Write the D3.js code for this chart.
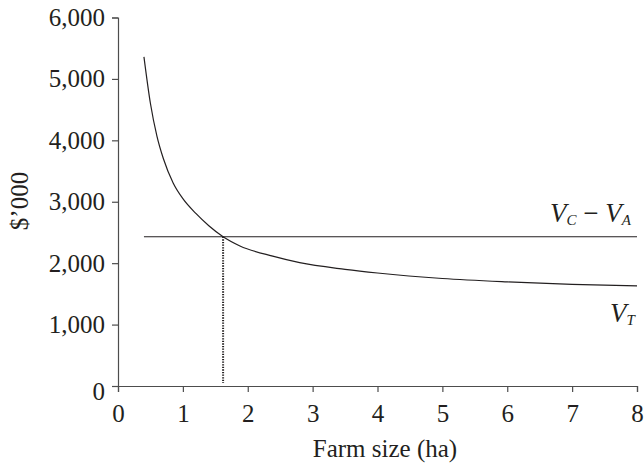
<!DOCTYPE html>
<html>
<head>
<meta charset="utf-8">
<script src="https://cdn.jsdelivr.net/npm/d3@7"></script>
<style>
  body { margin: 0; background: #fff; }
  text { font-family: "Liberation Serif", "Times New Roman", serif; fill: #231f20; }
</style>
</head>
<body>
<script>
// values
const farmSize = [0.4, 0.5, 0.6, 0.7, 0.85, 1.0, 1.2, 1.4, 1.62, 1.88, 2.4, 2.8, 3.5, 4.0, 5.0, 6.0, 7.0, 8.0]
const valueT   = [5360, 4600, 4070, 3700, 3306, 3050, 2810, 2610, 2430, 2280, 2110, 2008, 1900, 1840, 1750, 1695, 1655, 1630]
const vcaLevel = 2430
const vcaRange = [0.4, 8]
const crossSize = 1.62
const xTicks = [0, 1, 2, 3, 4, 5, 6, 7, 8]
const yTicks = [0, 1000, 2000, 3000, 4000, 5000, 6000]

const width = 644, height = 465
const margin = { top: 17.5, right: 7, bottom: 79, left: 118 }

const svg = d3.select("body").append("svg")
    .attr("width", width)
    .attr("height", height)

const x = d3.scaleLinear().domain([0, 8]).range([margin.left, width - margin.right])
const y = d3.scaleLinear().domain([0, 6000]).range([height - margin.bottom, margin.top])

// axes
const xAxis = svg.append("g")
    .attr("transform", `translate(0,${y(0)})`)
    .call(d3.axisBottom(x).tickValues(xTicks).tickSize(6).tickPadding(12).tickFormat(d3.format("d")))
const yAxis = svg.append("g")
    .attr("transform", `translate(${x(0)},0)`)
    .call(d3.axisLeft(y).tickValues(yTicks).tickSize(6).tickPadding(7).tickFormat(d3.format(",")))

for (const g of [xAxis, yAxis]) {
    g.select(".domain").attr("stroke", "#4d4d4d").attr("stroke-width", 1.2)
    g.selectAll(".tick line").attr("stroke", "#4d4d4d").attr("stroke-width", 1.2)
    g.selectAll(".tick text")
        .attr("font-family", "Liberation Serif, serif")
        .attr("font-size", 25)
        .attr("fill", "#231f20")
}
xAxis.selectAll(".tick text").attr("dy", "0.71em")
// the zero label sits a little low in the original
yAxis.selectAll(".tick text").filter(d => d === 0).attr("dy", "0.52em")

// axis titles
svg.append("text")
    .attr("x", 385).attr("y", 457)
    .attr("text-anchor", "middle")
    .attr("font-size", 25)
    .text("Farm size (ha)")

svg.append("text")
    .attr("transform", "translate(28,201) rotate(-90)")
    .attr("text-anchor", "middle")
    .attr("font-size", 25)
    .text("$\u2019000")

// V_C - V_A horizontal line
svg.append("line")
    .attr("x1", x(vcaRange[0])).attr("x2", x(vcaRange[1]))
    .attr("y1", y(vcaLevel)).attr("y2", y(vcaLevel))
    .attr("stroke", "#231f20").attr("stroke-width", 1.2)

// V_T curve
const line = d3.line()
    .x((d, i) => x(d))
    .y((d, i) => y(valueT[i]))
    .curve(d3.curveMonotoneX)

svg.append("path")
    .datum(farmSize)
    .attr("d", line)
    .attr("fill", "none")
    .attr("stroke", "#231f20")
    .attr("stroke-width", 1.2)

// dotted drop line at the crossing
svg.append("line")
    .attr("x1", x(crossSize)).attr("x2", x(crossSize))
    .attr("y1", y(vcaLevel)).attr("y2", y(0) - 3)
    .attr("stroke", "#231f20").attr("stroke-width", 2)
    .attr("stroke-dasharray", "1.3,1.3")

// labels
const lab1 = svg.append("text")
    .attr("x", 631).attr("y", 222)
    .attr("text-anchor", "end")
    .attr("font-size", 27)
    .attr("font-style", "italic")
lab1.append("tspan").text("V")
lab1.append("tspan").attr("font-size", 15).attr("dy", 3).text("C")
lab1.append("tspan").attr("dy", -3).attr("font-style", "normal").text(" \u2212 ")
lab1.append("tspan").text("V")
lab1.append("tspan").attr("font-size", 15).attr("dy", 3).text("A")

const lab2 = svg.append("text")
    .attr("x", 610).attr("y", 322)
    .attr("font-size", 27)
    .attr("font-style", "italic")
lab2.append("tspan").text("V")
lab2.append("tspan").attr("font-size", 15).attr("dy", 3).text("T")
</script>
</body>
</html>
